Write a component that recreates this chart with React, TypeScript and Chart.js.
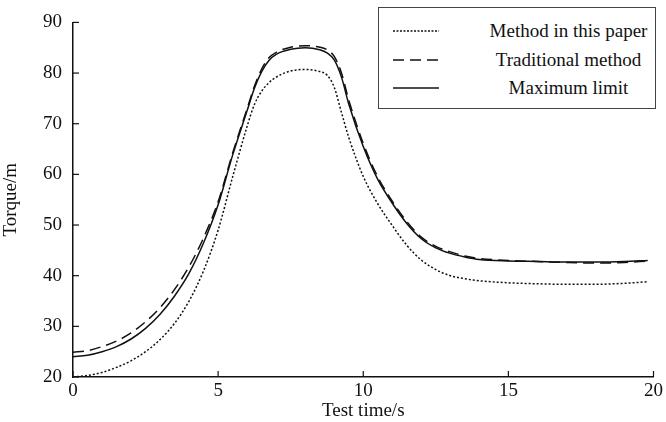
import React, { useEffect, useRef } from "react";
import { Chart, registerables } from "chart.js";

Chart.register(...registerables);

const timeS = [0, 0.5, 1, 1.5, 2, 2.5, 3, 3.5, 4, 4.5, 5, 5.5, 6, 6.25, 6.5, 6.75, 7, 7.5, 8, 8.5, 8.75, 9, 9.25, 9.5, 10, 10.5, 11, 11.5, 12, 12.5, 13, 13.5, 14, 15, 16, 17, 18, 19, 19.8];

const methodPaper = [20.0, 20.3, 20.9, 21.9, 23.2, 25.0, 27.4, 30.6, 35.0, 41.0, 49.0, 59.5, 69.5, 73.8, 76.4, 78.1, 79.2, 80.4, 80.7, 80.3, 79.6, 77.2, 72.2, 67.3, 59.6, 54.2, 49.9, 46.0, 43.1, 41.2, 40.0, 39.4, 39.0, 38.6, 38.4, 38.3, 38.3, 38.5, 38.8];

const traditional = [24.9, 25.2, 26.0, 27.1, 28.7, 30.9, 33.7, 37.3, 41.8, 47.5, 54.6, 64.2, 73.0, 77.4, 80.8, 83.0, 84.1, 85.1, 85.4, 85.1, 84.6, 83.3, 80.0, 74.7, 66.1, 59.5, 54.7, 50.7, 47.6, 45.8, 44.7, 43.9, 43.4, 43.0, 42.8, 42.6, 42.5, 42.6, 42.9];

const maxLimit = [24.0, 24.3, 25.0, 26.0, 27.5, 29.6, 32.4, 36.0, 40.5, 46.5, 54.0, 63.8, 72.6, 77.0, 80.3, 82.5, 83.7, 84.7, 85.0, 84.6, 84.0, 82.6, 79.2, 73.9, 65.5, 59.0, 54.3, 50.3, 47.3, 45.5, 44.4, 43.7, 43.2, 42.9, 42.8, 42.7, 42.7, 42.8, 43.0];

const seriesNames = ["Method in this paper", "Traditional method", "Maximum limit"];
const xTicks = [0, 5, 10, 15, 20];
const yTicks = [20, 30, 40, 50, 60, 70, 80, 90];

const FONT = "'Liberation Serif', 'Times New Roman', serif";
const INK = "#111";

const toPoints = (ys: number[]) => ys.map((y, i) => ({ x: timeS[i], y }));

const inwardTicks = {
  id: "inwardTicks",
  afterDraw(chart: any) {
    const { ctx, chartArea, scales } = chart;
    ctx.save();
    ctx.strokeStyle = INK;
    ctx.lineWidth = 1.2;
    const len = 6;
    xTicks.forEach((v) => {
      const px = scales.x.getPixelForValue(v);
      ctx.beginPath();
      ctx.moveTo(px, chartArea.bottom);
      ctx.lineTo(px, chartArea.bottom - len);
      ctx.stroke();
    });
    yTicks.forEach((v) => {
      const py = scales.y.getPixelForValue(v);
      ctx.beginPath();
      ctx.moveTo(chartArea.left, py);
      ctx.lineTo(chartArea.left + len, py);
      ctx.stroke();
    });
    ctx.restore();
  },
};

function LegendRow({ dash, label }: { dash: string; label: string }) {
  return (
    <div style={{ display: "flex", alignItems: "center", height: 28.5 }}>
      <svg width={60} height={10} style={{ marginLeft: 13, flex: "none" }}>
        <line x1={1} y1={5} x2={47} y2={5} stroke={INK} strokeWidth={1.5} strokeDasharray={dash} />
      </svg>
      <div style={{ flex: 1, textAlign: "center", paddingLeft: 30, fontSize: 19, whiteSpace: "nowrap" }}>{label}</div>
    </div>
  );
}

export default function App() {
  const canvasRef = useRef<HTMLCanvasElement | null>(null);

  useEffect(() => {
    if (!canvasRef.current) return;
    const common = {
      borderColor: INK,
      borderWidth: 1.5,
      pointRadius: 0,
      fill: false,
      cubicInterpolationMode: "monotone" as const,
    };
    const chart = new Chart(canvasRef.current, {
      type: "line",
      data: {
        datasets: [
          { ...common, label: seriesNames[0], data: toPoints(methodPaper), borderDash: [2, 2] },
          { ...common, label: seriesNames[1], data: toPoints(traditional), borderDash: [11, 6] },
          { ...common, label: seriesNames[2], data: toPoints(maxLimit) },
        ],
      },
      options: {
        animation: false,
        responsive: false,
        maintainAspectRatio: false,
        layout: { padding: { left: 0, right: 12, top: 17, bottom: 0 } },
        plugins: { legend: { display: false }, tooltip: { enabled: false } },
        scales: {
          x: {
            type: "linear",
            min: 0,
            max: 20,
            afterBuildTicks: (s: any) => {
              s.ticks = xTicks.map((v) => ({ value: v }));
            },
            afterFit: (s: any) => {
              s.height = 45;
            },
            grid: { display: false, drawTicks: false },
            border: { display: true, color: INK, width: 1.5 },
            ticks: { color: INK, font: { family: FONT, size: 19 }, padding: 3, maxRotation: 0 },
            title: { display: true, text: "Test time/s", color: INK, font: { family: FONT, size: 19 }, padding: { top: 0, bottom: 0 } },
          },
          y: {
            type: "linear",
            min: 20,
            max: 90,
            afterBuildTicks: (s: any) => {
              s.ticks = yTicks.map((v) => ({ value: v }));
            },
            afterFit: (s: any) => {
              s.width = 73;
            },
            grid: { display: false, drawTicks: false },
            border: { display: true, color: INK, width: 1.5 },
            ticks: { color: INK, font: { family: FONT, size: 19 }, padding: 11 },
            title: { display: true, text: "Torque/m", color: INK, font: { family: FONT, size: 19 }, padding: { top: 0, bottom: 0 } },
          },
        },
      },
      plugins: [inwardTicks],
    });
    return () => chart.destroy();
  }, []);

  return (
    <div style={{ position: "absolute", left: 0, top: 0, width: 666, height: 422, background: "#fff", fontFamily: FONT, color: INK }}>
      <canvas ref={canvasRef} width={666} height={422} style={{ display: "block" }} />
      <div
        style={{
          position: "absolute",
          left: 378,
          top: 7,
          width: 276,
          height: 91,
          border: "1.5px solid #444",
          background: "#fff",
          boxSizing: "content-box",
          paddingTop: 9,
        }}
      >
        <LegendRow dash="2 1.5" label={seriesNames[0]} />
        <LegendRow dash="11 6" label={seriesNames[1]} />
        <LegendRow dash="" label={seriesNames[2]} />
      </div>
    </div>
  );
}
